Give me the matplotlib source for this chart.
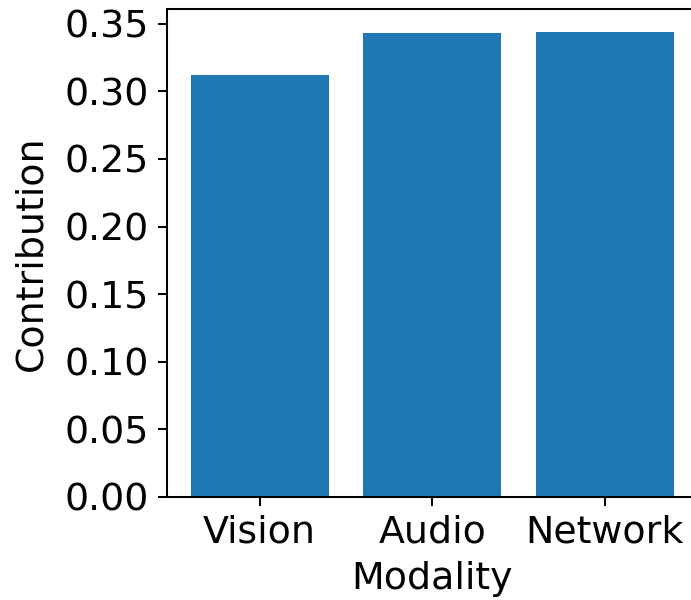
import matplotlib
matplotlib.use('Agg')
import matplotlib.pyplot as plt
from matplotlib.ticker import MultipleLocator, FormatStrFormatter

# ==================== DATA ====================
modalities = ['Vision', 'Audio', 'Network']
contributions = [0.312, 0.343, 0.344]

# ==================== PLOT ====================
DPI = 184
FS = 14.8
fig = plt.figure(figsize=(691 / DPI, 600 / DPI), dpi=DPI)
ax = fig.add_axes([0.241, 0.1717, 0.769, 0.814])

ax.bar(modalities, contributions, color='#1f77b4')
ax.set_xlabel('Modality', fontsize=FS)
ax.set_ylabel('Contribution', fontsize=FS, labelpad=6)
ax.yaxis.set_major_locator(MultipleLocator(0.05))
ax.yaxis.set_major_formatter(FormatStrFormatter('%.2f'))
ax.tick_params(labelsize=FS)

fig.savefig('out.png', dpi=DPI)
plt.close(fig)
